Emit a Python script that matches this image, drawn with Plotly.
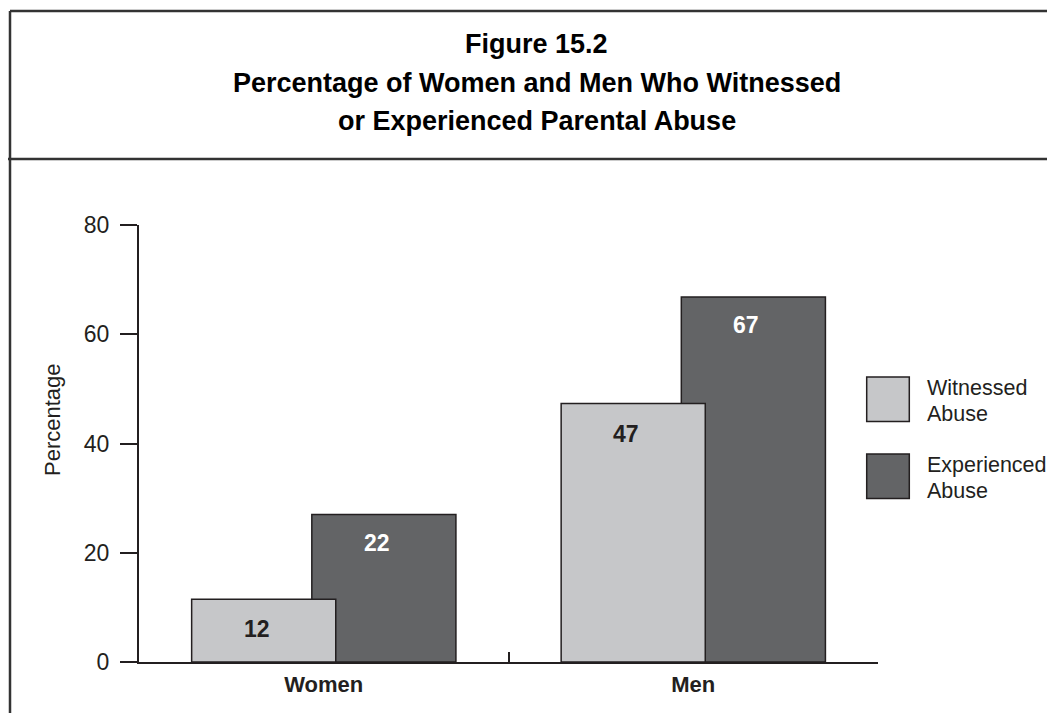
import plotly.graph_objects as go

# ---------------- data ----------------
categories = ["Women", "Men"]
series_names = ["Witnessed Abuse", "Experienced Abuse"]
witnessed = [11.5, 47.3]
experienced = [27.0, 66.8]
witnessed_labels = ["12", "47"]
experienced_labels = ["22", "67"]
y_ticks = [0, 20, 40, 60, 80]
title_lines = ["Figure 15.2",
               "Percentage of Women and Men Who Witnessed",
               "or Experienced Parental Abuse"]
y_title = "Percentage"

# ---------------- style ----------------
FONT = "Liberation Sans, Arial, Helvetica, sans-serif"
INK = "#231f20"
LIGHT = "#c6c7c9"
DARK = "#636466"
FRAME = "#333333"
PAGE_OFF = 8                      # page body margin on every side
W, H = 1055 - 2 * PAGE_OFF, 721 - 2 * PAGE_OFF
# plot area, in window pixels
RL, RR, RT, RB = 139, 878, 225, 662
L, R, T, B = RL - PAGE_OFF, RR - PAGE_OFF, RT - PAGE_OFF, RB - PAGE_OFF
BAR_W = 0.39
OFF_W = -0.3575
OFF_E = -0.0323


def px(x):
    """window x pixel -> paper fraction"""
    return (x - PAGE_OFF - L) / (R - L)


def py(y):
    """window y pixel -> paper fraction"""
    return (B - (y - PAGE_OFF)) / (B - T)


fig = go.Figure()
fig.add_bar(x=categories, y=experienced, name=series_names[1],
            width=BAR_W, offset=OFF_E,
            marker=dict(color=DARK, line=dict(color=INK, width=1.5)),
            showlegend=False)
fig.add_bar(x=categories, y=witnessed, name=series_names[0],
            width=BAR_W, offset=OFF_W,
            marker=dict(color=LIGHT, line=dict(color=INK, width=1.5)),
            showlegend=False)

annotations = []
for i in range(len(categories)):
    annotations.append(dict(x=i + OFF_W + BAR_W / 2, y=witnessed[i], xref="x", yref="y",
                            text=witnessed_labels[i], showarrow=False,
                            xanchor="center", yanchor="middle", xshift=-7, yshift=-30,
                            font=dict(family=FONT, size=23, color=INK, weight="bold")))
    annotations.append(dict(x=i + OFF_E + BAR_W / 2, y=experienced[i], xref="x", yref="y",
                            text=experienced_labels[i], showarrow=False,
                            xanchor="center", yanchor="middle", xshift=-7, yshift=-28,
                            font=dict(family=FONT, size=23, color="white", weight="bold")))

# title (three centred lines)
title_y = [44, 82.5, 121]
for line, yy in zip(title_lines, title_y):
    annotations.append(dict(x=px(536.8), y=py(yy), xref="paper", yref="paper",
                            text=line, showarrow=False, xanchor="center", yanchor="middle",
                            font=dict(family=FONT, size=27, color="black", weight="bold")))

# y-axis title
annotations.append(dict(x=px(52.5), y=py(419.5), xref="paper", yref="paper",
                        text=y_title, textangle=-90, showarrow=False,
                        xanchor="center", yanchor="middle",
                        font=dict(family=FONT, size=22, color=INK)))

# legend (drawn by hand so the swatches are large)
shapes = []
legend_colors = [LIGHT, DARK]
for k, name in enumerate(series_names):
    top = 377 + 77 * k
    shapes.append(dict(type="rect", xref="paper", yref="paper",
                       x0=px(866.7), x1=px(909.3), y0=py(top), y1=py(top + 44.5),
                       fillcolor=legend_colors[k], line=dict(color=INK, width=1.5)))
    for j, word in enumerate(name.split(" ")):
        annotations.append(dict(x=px(925), y=py(top + 11.3 + 25.6 * j), xref="paper", yref="paper",
                                text=word, showarrow=False, xanchor="left", yanchor="middle",
                                font=dict(family=FONT, size=21.5, color=INK)))

# frame lines
shapes += [
    dict(type="line", xref="paper", yref="paper", x0=px(10), x1=px(1060), y0=py(11), y1=py(11),
         line=dict(color=FRAME, width=2.5)),
    dict(type="line", xref="paper", yref="paper", x0=px(8), x1=px(1060), y0=py(159), y1=py(159),
         line=dict(color=FRAME, width=2.5)),
    dict(type="line", xref="paper", yref="paper", x0=px(10), x1=px(10), y0=py(11), y1=py(730),
         line=dict(color=FRAME, width=2.5)),
]

fig.update_layout(
    width=W, height=H,
    margin=dict(l=L, r=W - R, t=T, b=H - B, pad=0),
    paper_bgcolor="white", plot_bgcolor="white",
    barmode="overlay",
    font=dict(family=FONT, color=INK),
    xaxis=dict(type="category", categoryorder="array", categoryarray=categories,
               range=[-0.5, 1.5], showline=True, linecolor=INK, linewidth=2,
               ticks="inside", ticklen=10, tickwidth=2, tickcolor=INK,
               tickson="boundaries", showgrid=False, zeroline=False,
               tickfont=dict(family=FONT, size=22, color=INK, weight="bold"),
               ticklabelstandoff=2),
    yaxis=dict(range=[0, 80], tickmode="array", tickvals=y_ticks,
               showline=True, linecolor=INK, linewidth=2,
               ticks="outside", ticklen=17, tickwidth=2, tickcolor=INK,
               showgrid=False, zeroline=False,
               tickfont=dict(family=FONT, size=23, color=INK),
               ticklabelstandoff=6),
    shapes=shapes,
    annotations=annotations,
)

fig.write_html("out.html")
